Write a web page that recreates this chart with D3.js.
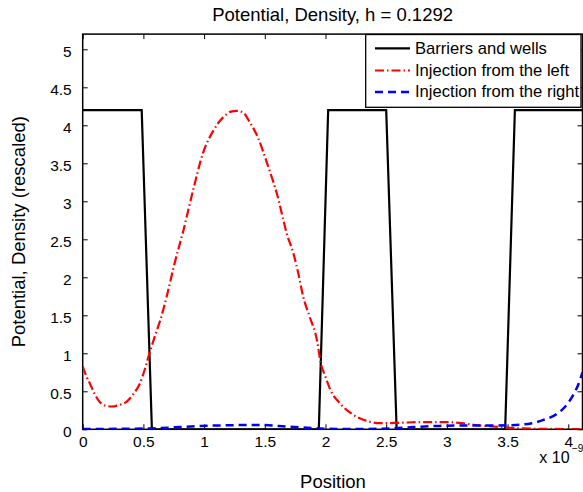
<!DOCTYPE html>
<html>
<head>
<meta charset="utf-8">
<script src="https://cdn.jsdelivr.net/npm/d3@7"></script>
<style>
  html, body { margin: 0; padding: 0; background: #fff; }
  svg { display: block; }
  text { font-family: "Liberation Sans", Arial, Helvetica, sans-serif; fill: #000; }
</style>
</head>
<body>
<svg id="chart" width="583" height="492"></svg>
<script>
// Positions are in units of 1e-9 (axis shows "x 10^-9")
const titleText = "Potential, Density, h = 0.1292";
const xLabel = "Position";
const yLabel = "Potential, Density (rescaled)";
const seriesNames = ["Barriers and wells", "Injection from the left", "Injection from the right"];
const xTicks = [0, 0.5, 1, 1.5, 2, 2.5, 3, 3.5, 4];
const yTicks = [0, 0.5, 1, 1.5, 2, 2.5, 3, 3.5, 4, 4.5, 5];

const barrierX = [0, 0.486, 0.57, 1.945, 2.022, 2.50, 2.586, 3.48, 3.56, 4.117];
const barrierY = [4.2, 4.2, 0, 0, 4.2, 4.2, 0, 0, 4.2, 4.2];

const leftX = [0, 0.03, 0.06, 0.10, 0.14, 0.19, 0.24, 0.30, 0.36, 0.42, 0.47, 0.51, 0.55, 0.60, 0.64, 0.70, 0.75, 0.83, 0.91, 0.99, 1.08, 1.16, 1.22, 1.27, 1.32, 1.38, 1.446, 1.50, 1.557, 1.598, 1.64, 1.68, 1.735, 1.776, 1.817, 1.87, 1.93, 1.96, 2.0, 2.04, 2.12, 2.23, 2.34, 2.45, 2.6, 2.8, 3.0, 3.1, 3.22, 3.35, 3.48, 3.6, 3.8, 4.117];
const leftY = [0.83, 0.70, 0.60, 0.46, 0.36, 0.31, 0.30, 0.32, 0.36, 0.47, 0.60, 0.78, 1.00, 1.25, 1.44, 1.80, 2.14, 2.62, 3.15, 3.63, 3.94, 4.11, 4.18, 4.19, 4.17, 4.03, 3.83, 3.59, 3.32, 3.11, 2.84, 2.58, 2.32, 2.05, 1.74, 1.48, 1.17, 0.88, 0.69, 0.52, 0.34, 0.19, 0.11, 0.08, 0.085, 0.095, 0.095, 0.085, 0.06, 0.04, 0.025, 0.012, 0.006, 0.003];

const rightX = [0, 0.3, 0.5, 0.6, 0.8, 0.97, 1.15, 1.3, 1.5, 1.68, 1.85, 1.955, 2.1, 2.31, 2.53, 2.72, 2.94, 3.16, 3.41, 3.60, 3.70, 3.79, 3.87, 3.93, 3.99, 4.04, 4.08, 4.117];
const rightY = [0.005, 0.006, 0.01, 0.013, 0.03, 0.043, 0.052, 0.055, 0.055, 0.035, 0.02, 0.01, 0.005, 0.005, 0.01, 0.03, 0.045, 0.05, 0.05, 0.06, 0.08, 0.12, 0.17, 0.23, 0.33, 0.45, 0.58, 0.75];

const L = 82.7, R = 582.5, T = 34.1, B = 429.3;
const x = d3.scaleLinear().domain([0, 4.117]).range([L, R]);
const y = d3.scaleLinear().domain([0, 5.2]).range([B, T]);

const svg = d3.select("#chart");
svg.append("defs").append("clipPath").attr("id", "clip")
  .append("rect").attr("x", L).attr("y", T).attr("width", R - L).attr("height", B - T);

const fmt = d => String(+d.toFixed(2));
const tickFont = "15.5px";

// Axes with inward ticks
const gB = svg.append("g").attr("transform", `translate(0,${B})`)
  .call(d3.axisBottom(x).tickValues(xTicks).tickSize(-5).tickPadding(6.5).tickFormat(fmt));
const gT = svg.append("g").attr("transform", `translate(0,${T})`)
  .call(d3.axisTop(x).tickValues(xTicks).tickSize(-5).tickFormat(""));
const gLft = svg.append("g").attr("transform", `translate(${L},0)`)
  .call(d3.axisLeft(y).tickValues(yTicks).tickSize(-5).tickPadding(11).tickFormat(fmt));
const gRt = svg.append("g").attr("transform", `translate(${R},0)`)
  .call(d3.axisRight(y).tickValues(yTicks).tickSize(-5).tickFormat(""));
[gB, gT, gLft, gRt].forEach(g => {
  g.select(".domain").remove();
  g.selectAll(".tick line").attr("stroke", "#000").attr("stroke-width", 1);
  g.selectAll("text").style("font-size", tickFont).attr("font-family", null);
});
gLft.selectAll("text").attr("dy", "0.45em");

// Border
svg.append("rect").attr("x", L).attr("y", T).attr("width", R - L).attr("height", B - T)
  .attr("fill", "none").attr("stroke", "#000").attr("stroke-width", 1.5);

const plot = svg.append("g").attr("clip-path", "url(#clip)");

const lineLin = d3.line().x(d => x(d[0])).y(d => y(d[1]));
const lineSmooth = d3.line().x(d => x(d[0])).y(d => y(d[1])).curve(d3.curveMonotoneX);

plot.append("path").datum(barrierX.map((v, i) => [v, barrierY[i]]))
  .attr("d", lineLin).attr("fill", "none").attr("stroke", "#000").attr("stroke-width", 2.2)
  .attr("stroke-linejoin", "miter");
plot.append("path").datum(leftX.map((v, i) => [v, leftY[i]]))
  .attr("d", lineSmooth).attr("fill", "none").attr("stroke", "#ff0000").attr("stroke-width", 2.2)
  .attr("stroke-dasharray", "9,3,1.5,3");
plot.append("path").datum(rightX.map((v, i) => [v, rightY[i]]))
  .attr("d", lineSmooth).attr("fill", "none").attr("stroke", "#0000ff").attr("stroke-width", 2.5)
  .attr("stroke-dasharray", "8,5");

// Title and labels
svg.append("text").attr("x", (L + R) / 2).attr("y", 20.7).attr("text-anchor", "middle")
  .style("font-size", "18.5px").text(titleText);
svg.append("text").attr("x", 333).attr("y", 487.7).attr("text-anchor", "middle")
  .style("font-size", "18.5px").text(xLabel);
svg.append("text").attr("transform", `translate(25,${(T + B) / 2}) rotate(-90)`)
  .attr("text-anchor", "middle").style("font-size", "18.5px").text(yLabel);

// Exponent
const ex = svg.append("text").attr("x", 539.3).attr("y", 463.3).style("font-size", "16px");
ex.append("tspan").text("x 10");
ex.append("tspan").attr("x", 572).attr("y", 452).style("font-size", "10px").text("\u22129");

// Legend
const lg = svg.append("g");
lg.append("rect").attr("x", 365.7).attr("y", 34.5).attr("width", 215.3).attr("height", 72.8)
  .attr("fill", "#fff").attr("stroke", "#000").attr("stroke-width", 1.3);
const legStyles = [
  { c: "#000", w: 2.2, dash: null },
  { c: "#ff0000", w: 2.2, dash: "9,3,1.5,3" },
  { c: "#0000ff", w: 2.5, dash: "8,5" }
];
const lineYs = [48.3, 70.5, 92];
const textYs = [54, 75.7, 96.9];
seriesNames.forEach((name, i) => {
  lg.append("line").attr("x1", 375).attr("x2", 410).attr("y1", lineYs[i]).attr("y2", lineYs[i])
    .attr("stroke", legStyles[i].c).attr("stroke-width", legStyles[i].w)
    .attr("stroke-dasharray", legStyles[i].dash);
  lg.append("text").attr("x", 415).attr("y", textYs[i]).style("font-size", "16.6px").text(name);
});
</script>
</body>
</html>
